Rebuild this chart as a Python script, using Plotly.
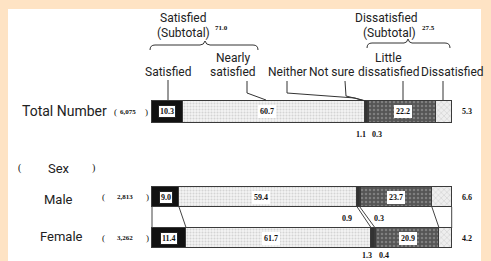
import plotly.graph_objects as go
import numpy as np

# ---------------- data ----------------
rows = ["Total Number", "Male", "Female"]
counts = ["6,075", "2,813", "3,262"]
categories = ["Satisfied", "Nearly satisfied", "Neither", "Not sure",
              "Little dissatisfied", "Dissatisfied"]
satisfied = [10.3, 9.0, 11.4]
nearly_satisfied = [60.7, 59.4, 61.7]
neither = [1.1, 0.9, 1.3]
not_sure = [0.3, 0.3, 0.4]
little_dissatisfied = [22.2, 23.7, 20.9]
dissatisfied = [5.3, 6.6, 4.2]
subtotal_satisfied = "71.0"
subtotal_dissatisfied = "27.5"

series = [satisfied, nearly_satisfied, neither, not_sure, little_dissatisfied, dissatisfied]

# ---------------- layout helpers ----------------
W, H = 491, 261
X0PX, SCALE = 152, 3.0          # pixel of 0 %, pixels per %
row_y = [111.5, 197, 238]        # row centres (y axis is in pixel units)
row_w = [22, 20, 20]

def dx(px):
    return (px - X0PX) / SCALE

def P(x, y):
    return f"{dx(x):.3f},{y}"

def b(s):
    return f"<b>{s}</b>"

LABEL_FONT = dict(family="Roboto, Liberation Sans, sans-serif", size=12, color="#222")
ROW_FONT = dict(family="Roboto, Liberation Sans, sans-serif", size=13, color="#222")
NUM_FONT = dict(family="Liberation Serif, DejaVu Serif, serif", size=8, color="#111")

styles = [
    dict(color="#111111", pattern=dict(shape="")),
    dict(color="#f2f2f2", pattern=dict(shape=".", fgcolor="#b5b5b5", bgcolor="#f2f2f2", size=3, solidity=0.35)),
    dict(color="#333333", pattern=dict(shape="")),
    dict(color="#999999", pattern=dict(shape="")),
    dict(color="#555555", pattern=dict(shape=".", fgcolor="#a8a8a8", bgcolor="#555555", size=4, solidity=0.3)),
    dict(color="#eeeeee", pattern=dict(shape="x", fgcolor="#9a9a9a", bgcolor="#eeeeee", size=4, solidity=0.2)),
]

fig = go.Figure()
for name, vals, st in zip(categories, series, styles):
    fig.add_trace(go.Bar(
        y=row_y, x=vals, width=row_w, orientation="h", name=name,
        marker=dict(color=st["color"], pattern=st["pattern"],
                    line=dict(color="#3a3a3a", width=1)),
        showlegend=False, hoverinfo="skip"))

cum = np.cumsum(np.array(series), axis=0)   # shape (6, 3)
starts = np.vstack([np.zeros(3), cum[:-1]])

# connectors between Male and Female bars
m_bot = row_y[1] + row_w[1] / 2
f_top = row_y[2] - row_w[2] / 2
bounds_m = [0.0] + [cum[i][1] for i in (0, 1, 2, 4, 5)]
bounds_f = [0.0] + [cum[i][2] for i in (0, 1, 2, 4, 5)]
for bm, bf in zip(bounds_m, bounds_f):
    fig.add_trace(go.Scatter(x=[bm, bf], y=[m_bot, f_top], mode="lines",
                             line=dict(color="#444", width=1),
                             showlegend=False, hoverinfo="skip"))

annotations = []
def txt(x_px, y_px, text, font=LABEL_FONT, **kw):
    annotations.append(dict(x=dx(x_px), y=y_px, xref="x", yref="y", text=text,
                            showarrow=False, font=font, **kw))

# value boxes
for r in range(3):
    for i in (0, 1, 4):
        c = starts[i][r] + series[i][r] / 2
        if i == 1:
            c = starts[i][r] + series[i][r] * 0.46
        annotations.append(dict(x=c, y=row_y[r], xref="x", yref="y",
                                text=b(f"{series[i][r]:.1f}"), showarrow=False,
                                font=NUM_FONT, bgcolor="white",
                                bordercolor="#222" if i == 0 else "white",
                                borderwidth=1, borderpad=1))
    annotations.append(dict(x=cum[5][r] + 5, y=row_y[r], xref="x", yref="y",
                            text=b(f"{dissatisfied[r]:.1f}"), showarrow=False, font=NUM_FONT))

# small neither / not sure labels
small_pos = [(134, -1.5, 2.5), (218, -3.5, 6.0), (255, -1.5, 2.5)]
for r, (yy, offl, offr) in enumerate(small_pos):
    annotations.append(dict(x=starts[2][r] + offl, y=yy, xref="x", yref="y",
                            text=b(f"{neither[r]:.1f}"), showarrow=False, font=NUM_FONT))
    annotations.append(dict(x=cum[3][r] + offr, y=yy, xref="x", yref="y",
                            text=b(f"{not_sure[r]:.1f}"), showarrow=False, font=NUM_FONT))

# header labels
txt(183, 18, "Satisfied")
txt(183, 33, "(Subtotal)")
txt(221, 28, b(subtotal_satisfied), font=dict(NUM_FONT, size=7))
txt(386, 18, "Dissatisfied")
txt(389, 33, "(Subtotal)")
txt(428, 28, b(subtotal_dissatisfied), font=dict(NUM_FONT, size=7))
txt(168, 72, "Satisfied")
txt(233, 58, "Nearly")
txt(233, 72, "satisfied")
txt(287, 72, "Neither")
txt(331, 72, "Not sure")
txt(388, 58, "Little")
txt(388, 72, "dissatisfied")
txt(452, 72, "Dissatisfied")

# row labels
txt(64, 111, rows[0], font=dict(ROW_FONT, size=14))
txt(20, 168, "(", font=dict(NUM_FONT, size=10))
txt(59, 168, "Sex", font=ROW_FONT)
txt(93, 168, ")", font=dict(NUM_FONT, size=10))
txt(58, 199, rows[1], font=ROW_FONT)
txt(61, 236, rows[2], font=ROW_FONT)
paren_x = [(115, 128, 146), (103, 125, 147), (103, 125, 147)]
for r, (pl, pc, pr) in enumerate(paren_x):
    txt(pl, row_y[r], "(", font=dict(NUM_FONT, size=9))
    txt(pc, row_y[r], b(counts[r]), font=dict(NUM_FONT, size=7))
    txt(pr, row_y[r], ")", font=dict(NUM_FONT, size=9))

shapes = [
    dict(type="rect", xref="paper", yref="paper", x0=8 / W, x1=481 / W, y0=0,
         y1=(H - 9) / H, fillcolor="white", line=dict(width=0), layer="below"),
]
line_style = dict(color="#333", width=1)
paths = [
    # braces
    f"M{P(150,50)} Q{P(150,45)} {P(155,45)} L{P(200,45)} Q{P(204,45)} {P(205,41)} "
    f"Q{P(206,45)} {P(210,45)} L{P(253,45)} Q{P(258,45)} {P(258,50)}",
    f"M{P(367,48)} Q{P(367,43)} {P(372,43)} L{P(404,43)} Q{P(407,43)} {P(408,39)} "
    f"Q{P(409,43)} {P(412,43)} L{P(445,43)} Q{P(450,43)} {P(450,48)}",
    # leaders
    f"M{P(168,80)} L{P(168,100)}",
    f"M{P(247,81)} L{P(247,93)} L{P(266,100)}",
    f"M{P(287,81)} L{P(287,93)} L{P(355,98)} L{P(365,101)}",
    f"M{P(345,81)} L{P(346,96)} L{P(366,101)}",
    f"M{P(403,81)} L{P(403,100)}",
    f"M{P(443,81)} L{P(443,100)}",
]
for p in paths:
    shapes.append(dict(type="path", xref="x", yref="y", path=p, line=line_style))

fig.update_layout(
    width=W, height=H, margin=dict(l=0, r=0, t=0, b=0),
    paper_bgcolor="#FEE3C4", plot_bgcolor="rgba(0,0,0,0)",
    barmode="stack", bargap=0,
    xaxis=dict(range=[dx(0), dx(W)], visible=False, fixedrange=True),
    yaxis=dict(range=[H, 0], visible=False, fixedrange=True),
    annotations=annotations, shapes=shapes,
)
fig.write_html("out.html", config=dict(displayModeBar=False),
               post_script="document.body.style.margin='0';document.body.style.padding='0';")
